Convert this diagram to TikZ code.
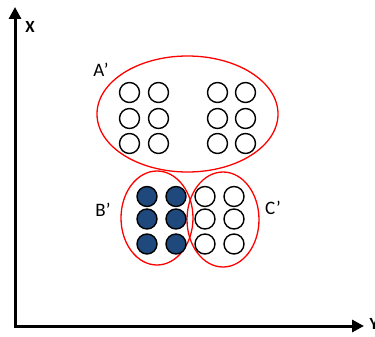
\documentclass[tikz,border=0pt]{standalone}
\usepackage{fontspec}
\setmainfont{Carlito}
\usetikzlibrary{arrows.meta}
\definecolor{balldark}{RGB}{31,73,125}
\tikzset{
  axis/.style={line width=3pt,{Triangle[length=12pt,width=12pt]}-{Triangle[length=12pt,width=12pt]}},
  ring/.style={draw=red,line width=1.3pt},
  ball/.style={circle,draw=black,line width=1.4pt,minimum size=20pt,inner sep=0pt},
  lab/.style={font=\fontsize{19}{19}\selectfont},
}
\begin{document}
\begin{tikzpicture}[x=1pt,y=-1pt]
            \useasboundingbox (0,0) rectangle (375,337);
            \coordinate (O) at (15,326);
            \coordinate (xtip) at (15,7);
            \coordinate (ytip) at (364,326);
            \draw[axis] (xtip)--(O)--(ytip);
            \node[font=\fontsize{17}{17}\selectfont\bfseries] (xlab) at (30,27) {X};
            \node[font=\fontsize{17}{17}\selectfont\bfseries,anchor=west] (ylab) at (366,324) {Y};
            % sets
            \draw[ring] (187.5,114) ellipse [x radius=90.5, y radius=58];
            \draw[ring] (157,218) ellipse [x radius=36, y radius=47];
            \draw[ring] (223,219.5) ellipse [x radius=36, y radius=47.5];
            \node[lab] (A) at (101,70) {A’};
            \node[lab] (B) at (103,210) {B’};
            \node[lab] (C) at (273,208) {C’};
            % elements
            \foreach \x/\i in {129.5/1,158.5/2,217.5/3,245.5/4}
              \foreach \y/\j in {92.5/1,118.5/2,143.5/3}
                \node[ball] (a\i\j) at (\x,\y) {};
            \foreach \x/\i in {147/1,176/2}
              \foreach \y/\j in {196.5/1,219/2,244/3}
                \node[ball,fill=balldark] (b\i\j) at (\x,\y) {};
            \foreach \x/\i in {205/1,234/2}
              \foreach \y/\j in {196.5/1,219/2,244/3}
                \node[ball] (c\i\j) at (\x,\y) {};
        \end{tikzpicture}
\end{document}
